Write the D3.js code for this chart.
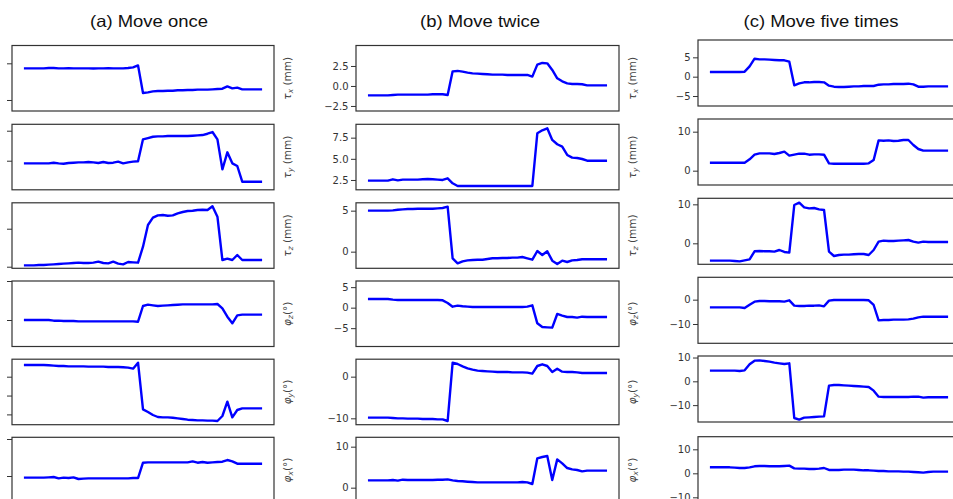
<!DOCTYPE html>
<html>
<head>
<meta charset="utf-8">
<script src="https://cdn.jsdelivr.net/npm/d3@7"></script>
<style>
  html, body { margin: 0; padding: 0; background: #fff; }
  svg { display: block; }
</style>
</head>
<body>
<svg id="chart" width="953" height="499"></svg>
<script>
// ---------------- DATA ----------------
const titles = ["(a) Move once", "(b) Move twice", "(c) Move five times"];
const rowLabels = [
  { sym: "τ", sub: "x", unit: " (mm)" },
  { sym: "τ", sub: "y", unit: " (mm)" },
  { sym: "τ", sub: "z", unit: " (mm)" },
  { sym: "φ", sub: "z", unit: "(°)" },
  { sym: "φ", sub: "y", unit: "(°)" },
  { sym: "φ", sub: "x", unit: "(°)" }
];

// (a) Move once
const onceTx = [-0.69,-0.69,-0.69,-0.69,-0.69,-0.64,-0.64,-0.69,-0.69,-0.67,-0.69,-0.69,-0.69,-0.69,-0.71,-0.69,-0.69,-0.67,-0.69,-0.69,-0.69,
  -0.64,-0.55,-0.28,-4.05,-3.96,-3.82,-3.77,-3.77,-3.73,-3.73,-3.68,-3.68,-3.64,-3.64,-3.59,-3.59,-3.59,-3.55,-3.5,-3.46,-3.14,-3.41,-3.32,-3.55,-3.55,-3.55,-3.55,-3.55];
const onceTy = [4.56,4.56,4.56,4.56,4.56,4.56,4.67,4.56,4.5,4.62,4.67,4.73,4.73,4.78,4.73,4.62,4.78,4.62,4.67,4.84,4.56,4.73,4.84,4.9,
  8.56,8.78,9.0,9.06,9.06,9.12,9.12,9.12,9.12,9.12,9.17,9.23,9.28,9.5,9.78,8.56,3.56,6.4,4.56,4.12,1.5,1.5,1.5,1.5,1.5];
const onceTz = [0.18,0.18,0.18,0.22,0.22,0.27,0.31,0.36,0.4,0.44,0.49,0.53,0.49,0.49,0.53,0.66,0.49,0.44,0.66,0.4,0.31,0.62,0.57,0.53,
  2.64,5.49,6.45,6.76,6.8,6.71,6.76,7.02,7.2,7.33,7.37,7.46,7.5,7.46,7.96,6.58,0.88,1.06,0.88,1.54,0.88,0.88,0.88,0.88,0.88];
const onceRz = [0,0,0,0,0,0,-0.17,-0.17,-0.26,-0.26,-0.26,-0.34,-0.34,-0.34,-0.34,-0.34,-0.34,-0.34,-0.34,-0.34,-0.34,-0.34,-0.34,-0.43,
  3.59,3.93,3.76,3.59,3.68,3.76,3.85,3.93,4.02,4.02,4.02,4.02,4.02,4.02,4.02,4.1,2.99,0.85,-0.85,1.2,1.37,1.37,1.37,1.37,1.37];
const onceRy = [3.1,3.1,3.1,3.1,3.1,3.02,2.93,2.84,2.84,2.75,2.75,2.75,2.75,2.66,2.66,2.66,2.66,2.57,2.57,2.57,2.49,2.4,2.13,3.72,
  -8.66,-9.36,-10.16,-10.69,-10.78,-10.78,-10.87,-11.04,-11.22,-11.4,-11.49,-11.57,-11.57,-11.66,-11.66,-11.75,-10.42,-6.62,-10.78,-8.83,-8.39,-8.39,-8.39,-8.39,-8.39];
const onceRx = [-0.45,-0.45,-0.45,-0.45,-0.45,-0.36,-0.27,-0.63,-0.45,-0.54,-0.36,-0.81,-0.72,-0.63,-0.63,-0.63,-0.63,-0.63,-0.63,-0.63,-0.63,-0.63,-0.54,-0.54,
  3.6,3.69,3.69,3.69,3.69,3.69,3.69,3.69,3.69,3.69,3.96,3.6,3.78,3.6,3.69,3.78,3.87,4.32,3.96,3.33,3.33,3.33,3.33,3.33,3.33];

// (b) Move twice
const twiceTx = [-1.17,-1.17,-1.17,-1.17,-1.17,-1.13,-1.08,-1.08,-1.08,-1.08,-1.08,-1.08,-1.08,-1.04,-1.04,-1.04,-1.13,
  1.83,1.88,1.79,1.67,1.58,1.54,1.5,1.46,1.42,1.42,1.42,1.38,1.38,1.38,1.38,1.38,
  1.17,2.67,2.88,2.83,2.0,0.96,0.58,0.33,0.25,0.25,0.21,0.08,0.08,0.08,0.08,0.08];
const twiceTy = [2.42,2.42,2.42,2.42,2.42,2.58,2.46,2.54,2.54,2.54,2.54,2.58,2.62,2.58,2.54,2.5,2.7,2.11,
  1.79,1.79,1.79,1.79,1.79,1.79,1.79,1.79,1.79,1.79,1.79,1.79,1.79,1.79,1.79,1.79,
  8.02,8.37,8.61,7.23,6.72,6.44,5.46,5.14,5.1,4.98,4.78,4.78,4.78,4.78,4.78];
const twiceTz = [5.0,5.0,5.0,5.0,5.0,5.04,5.12,5.16,5.2,5.2,5.24,5.24,5.24,5.24,5.28,5.33,5.49,
  -0.81,-1.42,-1.18,-1.06,-1.02,-0.98,-0.98,-0.89,-0.81,-0.81,-0.77,-0.77,-0.73,-0.73,-0.65,-0.81,-0.98,
  0.08,-0.41,0.04,-1.1,-1.5,-1.1,-1.26,-1.06,-1.02,-0.93,-0.93,-0.93,-0.93,-0.93,-0.93];
const twiceRz = [2.11,2.11,2.11,2.11,2.11,1.95,1.87,1.87,1.87,1.87,1.87,1.87,1.87,1.87,1.87,1.79,1.14,
  0.24,0.49,0.33,0.24,0.16,0.16,0.16,0.16,0.16,0.16,0.16,0.16,0.16,0.16,0.16,
  0.24,0.57,-3.82,-4.72,-4.8,-4.88,-1.54,-1.95,-2.28,-2.28,-2.44,-2.2,-2.28,-2.28,-2.28,-2.28,-2.28];
const twiceRy = [-9.84,-9.84,-9.84,-9.84,-9.84,-9.92,-10.0,-10.0,-10.08,-10.08,-10.08,-10.16,-10.16,-10.16,-10.24,-10.24,-10.64,
  3.36,3.04,2.48,2.0,1.68,1.44,1.36,1.28,1.2,1.12,1.12,1.12,1.04,1.04,1.04,
  0.96,0.72,2.56,2.96,2.56,1.12,1.92,1.2,1.12,1.12,1.04,0.88,0.88,0.88,0.88,0.88,0.88];
const twiceRx = [1.79,1.79,1.79,1.79,1.79,1.87,1.71,1.95,1.87,1.87,1.87,1.87,1.87,1.87,1.95,1.95,2.03,
  1.79,1.63,1.55,1.46,1.38,1.3,1.3,1.3,1.3,1.3,1.3,1.3,1.3,1.3,
  1.38,1.3,0.9,7.16,7.48,7.72,1.87,6.91,5.94,4.8,4.47,4.31,3.98,4.15,4.15,4.15,4.15,4.15];

// (c) Move five times
const fiveTx = [1.21,1.21,1.21,1.21,1.21,1.21,1.21,1.29,2.67,4.65,4.48,4.48,4.4,4.31,4.23,4.23,3.88,
  -2.24,-1.72,-1.46,-1.46,-1.38,-1.38,-1.46,-2.33,-2.59,-2.67,-2.67,-2.59,-2.5,-2.5,-2.41,-2.41,-2.41,
  -2.07,-1.98,-1.98,-1.9,-1.9,-1.9,-1.81,-1.98,-2.59,-2.59,-2.5,-2.5,-2.5,-2.5,-2.5];
const fiveTy = [2.05,2.05,2.05,2.05,2.05,2.05,2.05,2.05,2.91,4.1,4.45,4.45,4.45,4.27,4.53,4.87,3.85,4.1,4.36,4.36,4.1,4.19,4.19,4.1,
  1.88,1.79,1.79,1.79,1.79,1.79,1.79,1.79,1.88,2.74,
  7.78,7.69,7.78,7.61,7.69,7.86,7.86,6.58,5.56,5.13,5.13,5.13,5.13,5.13,5.13];
const fiveTz = [-4.45,-4.45,-4.45,-4.45,-4.45,-4.53,-4.62,-4.36,-4.1,-2.05,-1.97,-2.05,-2.05,-2.14,-1.71,-2.22,-2.39,
  9.83,10.43,9.23,8.97,9.06,8.72,8.55,
  -2.14,-3.25,-2.99,-2.91,-2.91,-2.82,-2.74,-2.74,-2.99,-1.71,
  0.43,0.68,0.6,0.6,0.68,0.77,0.85,0.43,0.17,0.43,0.34,0.34,0.34,0.34,0.34];
const fiveRz = [-3.15,-3.15,-3.15,-3.15,-3.15,-3.15,-3.15,-3.42,-2.05,-0.82,-0.55,-0.55,-0.68,-0.68,-0.68,-0.82,-0.27,
  -2.47,-2.6,-2.6,-2.47,-2.47,-2.33,-2.74,
  -0.41,-0.14,-0.14,-0.14,-0.14,-0.14,-0.14,-0.14,-0.27,-2.19,
  -8.49,-8.36,-8.36,-8.22,-8.22,-8.22,-8.08,-7.81,-7.26,-6.99,-6.99,-6.99,-6.99,-6.99,-6.99];
const fiveRy = [4.48,4.48,4.48,4.48,4.48,4.48,4.34,4.62,7.14,8.68,8.82,8.54,8.26,7.84,7.56,7.28,7.56,
  -15.41,-16.11,-15.27,-15.13,-14.99,-14.85,-14.71,
  -1.82,-1.54,-1.54,-1.68,-1.82,-1.96,-2.1,-2.24,-2.38,-3.92,
  -6.45,-6.58,-6.58,-6.58,-6.58,-6.58,-6.58,-6.45,-6.45,-6.86,-6.72,-6.72,-6.72,-6.72,-6.72];
const fiveRx = [2.5,2.5,2.5,2.5,2.5,2.36,2.22,2.22,2.5,2.92,3.05,3.05,2.92,2.92,2.92,3.05,3.19,
  2.08,1.94,1.94,1.8,1.8,1.94,2.22,
  1.39,1.39,1.39,1.53,1.53,1.53,1.39,1.25,1.25,1.11,
  0.97,0.97,0.83,0.83,0.83,0.69,0.69,0.55,0.42,0.28,0.55,0.69,0.69,0.69,0.69];

// axis limits [min, max] per row
const onceLimits  = [[-6.5, 2.43], [0.15, 11.07], [-0.21, 8.41], [-6.79, 10.0], [-12.73, 4.64], [-7.24, 10.46]];
const twiceLimits = [[-3.13, 5.06], [1.34, 9.08], [-2.03, 5.96], [-9.47, 6.5], [-11.53, 4.19], [-3.69, 12.29]];
const fiveLimits  = [[-7.58, 9.48], [-3.67, 13.25], [-5.38, 11.55], [-17.93, 9.19], [-17.09, 10.64], [-12.24, 15.26]];

// tick values per row
const onceTicks  = [[0, -5], [10, 5], [5, 0], [10, 0], [0, -5, -10], [10, 0]];
const twiceTicks = [[2.5, 0, -2.5], [7.5, 5, 2.5], [5, 0], [5, 0, -5], [0, -10], [10, 0]];
const fiveTicks  = [[5, 0, -5], [10, 0], [10, 0], [0, -10], [10, 0, -10], [10, 0, -10]];
const twiceTickFormats = [".1f", ".1f", "d", "d", "d", "d"];
const fiveTickFormats  = ["d", "d", "d", "d", "d", "d"];

// ---------------- LAYOUT ----------------
const columns = [
  { title: titles[0], series: [onceTx, onceTy, onceTz, onceRz, onceRy, onceRx], limits: onceLimits, ticks: onceTicks,
    formats: null, x0: 12, x1: 274, tops: [45.5, 124.3, 202.8, 281, 359.2, 437.3], h: 65.5,
    titleX: 149, titleW: 118, rightLabels: true },
  { title: titles[1], series: [twiceTx, twiceTy, twiceTz, twiceRz, twiceRy, twiceRx], limits: twiceLimits, ticks: twiceTicks,
    formats: twiceTickFormats, x0: 356, x1: 619, tops: [45.5, 124.3, 202.8, 281, 359.2, 437.3], h: 65.5,
    titleX: 480, titleW: 120, rightLabels: true },
  { title: titles[2], series: [fiveTx, fiveTy, fiveTz, fiveRz, fiveRy, fiveRx], limits: fiveLimits, ticks: fiveTicks,
    formats: fiveTickFormats, x0: 698, x1: 960, tops: [40, 119, 198.3, 277.3, 356, 436.7], h: 66,
    titleX: 821, titleW: 155, rightLabels: false }
];

const svg = d3.select("#chart");
svg.append("rect").attr("width", 953).attr("height", 499).attr("fill", "#fff");

const lineColor = "#0000ff";
const frameColor = "#333";

columns.forEach(col => {
  svg.append("text")
    .attr("x", col.titleX).attr("y", 27)
    .attr("text-anchor", "middle")
    .attr("font-family", "'Liberation Sans', Arial, sans-serif")
    .attr("font-size", 16.5)
    .attr("fill", "#111")
    .attr("textLength", col.titleW)
    .attr("lengthAdjust", "spacingAndGlyphs")
    .text(col.title);

  col.series.forEach((vals, r) => {
    const top = col.tops[r], bottom = top + col.h;
    const n = vals.length - 1;
    const x = d3.scaleLinear().domain([-0.05 * n, n * 1.05]).range([col.x0, col.x1]);
    const y = d3.scaleLinear().domain(col.limits[r]).range([bottom, top]);
    const g = svg.append("g");

    const axis = d3.axisLeft(y).tickValues(col.ticks[r]).tickSize(5).tickPadding(2.5);
    if (col.formats) axis.tickFormat(d3.format(col.formats[r]));
    else axis.tickFormat("");
    const ag = g.append("g").attr("transform", `translate(${col.x0},0)`).call(axis);
    ag.select(".domain").remove();
    ag.selectAll(".tick line").attr("stroke", frameColor).attr("stroke-width", 1);
    ag.selectAll(".tick text")
      .attr("fill", "#333")
      .attr("font-family", "'DejaVu Sans', sans-serif")
      .attr("font-size", 10);

    g.append("path")
      .datum(vals)
      .attr("fill", "none")
      .attr("stroke", lineColor)
      .attr("stroke-width", 2.4)
      .attr("stroke-linejoin", "round")
      .attr("d", d3.line().x((d, i) => x(i)).y(d => y(d)));

    g.append("rect")
      .attr("x", col.x0).attr("y", top)
      .attr("width", col.x1 - col.x0).attr("height", col.h)
      .attr("fill", "none").attr("stroke", frameColor).attr("stroke-width", 1.2);

    if (col.rightLabels) {
      const lab = rowLabels[r];
      const cx = col.x1 + 13, cy = top + col.h / 2;
      const t = g.append("text")
        .attr("transform", `translate(${cx},${cy}) rotate(-90)`)
        .attr("text-anchor", "middle")
        .attr("dy", "0.35em")
        .attr("font-family", "'DejaVu Sans', sans-serif")
        .attr("font-size", 10.5)
        .attr("fill", "#444");
      t.append("tspan").attr("font-style", "italic").text(lab.sym);
      t.append("tspan").attr("font-size", 7.5).attr("font-style", "italic").attr("dy", 2.5).text(lab.sub);
      t.append("tspan").attr("dy", -2.5).text(lab.unit);
    }
  });
});
</script>
</body>
</html>
